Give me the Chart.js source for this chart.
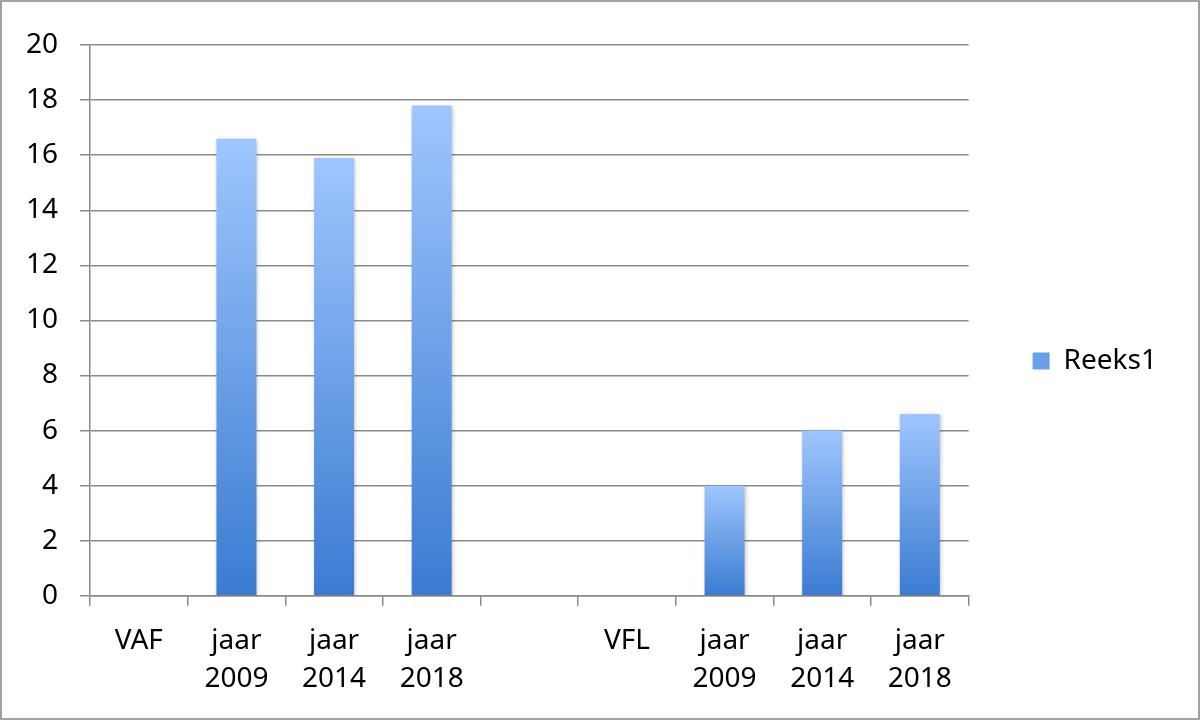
<!DOCTYPE html>
<html>
<head>
<meta charset="utf-8">
<script src="https://cdn.jsdelivr.net/npm/chart.js@4/dist/chart.umd.min.js"></script>
<style>
  html, body { margin: 0; padding: 0; background: #fff; }
  #wrap { width: 1200px; height: 720px; box-sizing: border-box; border: 2px solid #a3a3a3; position: relative; }
</style>
</head>
<body>
<div id="wrap"><canvas id="chart"></canvas></div>
<script>
// Data
const categories = ['VAF', ['jaar', '2009'], ['jaar', '2014'], ['jaar', '2018'], '', 'VFL', ['jaar', '2009'], ['jaar', '2014'], ['jaar', '2018']];
const reeks1 = [null, 16.6, 15.9, 17.8, null, null, 4.0, 6.0, 6.6];
const yTicks = [0, 2, 4, 6, 8, 10, 12, 14, 16, 18, 20];

const gridColor = '#8a8a8a';
const fontFamily = '"Noto Sans", "Open Sans", sans-serif';

// Per-bar vertical gradient: light on top, darker at the base
function barGradient(context) {
    const chart = context.chart;
    const { ctx, chartArea, scales } = chart;
    if (!chartArea || context.raw == null) return '#6a9fe9';
    const top = scales.y.getPixelForValue(context.raw);
    const bottom = scales.y.getPixelForValue(0);
    const g = ctx.createLinearGradient(0, top, 0, bottom);
    g.addColorStop(0, '#9fc6fe');
    g.addColorStop(1, '#3a7bd1');
    return g;
}

// Soft shadow behind the bars
const barShadow = {
    id: 'barShadow',
    beforeDatasetsDraw(chart) {
        const ctx = chart.ctx;
        ctx.save();
        ctx.shadowColor = 'rgba(0,0,0,0.22)';
        ctx.shadowBlur = 4;
        ctx.shadowOffsetX = 1;
        ctx.shadowOffsetY = 1;
    },
    afterDatasetsDraw(chart) {
        chart.ctx.restore();
    }
};

new Chart(document.getElementById('chart'), {
    type: 'bar',
    data: {
        labels: categories,
        datasets: [{
            label: 'Reeks1',
            data: reeks1,
            backgroundColor: barGradient,
            borderWidth: 0,
            barPercentage: 0.41,
            categoryPercentage: 1
        }]
    },
    plugins: [barShadow],
    options: {
        responsive: true,
        maintainAspectRatio: false,
        animation: false,
        layout: { padding: { left: 2, top: 6, right: 31, bottom: 4 } },
        plugins: {
            tooltip: { enabled: false },
            legend: {
                position: 'right',
                labels: {
                    boxWidth: 17,
                    boxHeight: 17,
                    padding: 64,
                    color: '#000',
                    font: { family: fontFamily, size: 28 }
                }
            }
        },
        scales: {
            x: {
                grid: {
                    offset: true,
                    drawOnChartArea: false,
                    drawTicks: true,
                    tickLength: 10,
                    color: gridColor,
                    lineWidth: 1.5
                },
                border: { color: gridColor, width: 1.5 },
                ticks: {
                    color: '#000',
                    padding: 16,
                    maxRotation: 0,
                    autoSkip: false,
                    font: { family: fontFamily, size: 28, lineHeight: 1.36 }
                }
            },
            y: {
                min: 0,
                max: 20,
                afterBuildTicks: (axis) => { axis.ticks = yTicks.map(v => ({ value: v })); },
                // keep the space above the plot inside the axis so the legend centres on the full height
                afterFit: (axis) => { axis.paddingTop = 43; },
                grid: {
                    color: gridColor,
                    lineWidth: 1.5,
                    tickLength: 10
                },
                border: { color: gridColor, width: 1.5 },
                ticks: {
                    color: '#000',
                    padding: 22,
                    font: { family: fontFamily, size: 28 }
                }
            }
        }
    }
});
</script>
</body>
</html>
